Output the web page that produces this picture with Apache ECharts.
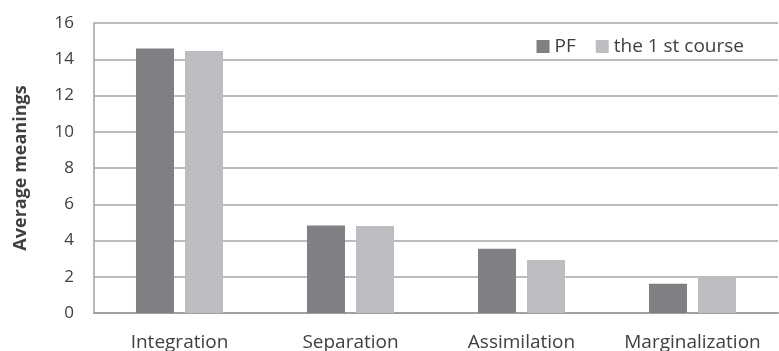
<!DOCTYPE html>
<html>
<head>
<meta charset="utf-8">
<script src="https://cdn.jsdelivr.net/npm/echarts@6/dist/echarts.min.js"></script>
<style>
  html, body { margin: 0; padding: 0; background: #fff; }
  #chart { width: 779px; height: 351px; }
</style>
</head>
<body>
<div id="chart"></div>
<script>
// categories and values
const categories = ['Integration', 'Separation', 'Assimilation', 'Marginalization']
const seriesNames = ['PF', 'the 1 st course']
const pfValues = [14.6, 4.83, 3.54, 1.62]
const courseValues = [14.45, 4.8, 2.92, 1.95]
const yTicks = [0, 2, 4, 6, 8, 10, 12, 14, 16]

const font = 'Open Sans'
const textColor = '#404040'

const chart = echarts.init(document.getElementById('chart'))
chart.setOption({
  animation: false,
  textStyle: { fontFamily: font },
  legend: {
    data: seriesNames,
    top: 32,
    right: 30,
    itemWidth: 13,
    itemHeight: 13,
    itemGap: 20,
    icon: 'rect',
    textStyle: { fontFamily: font, fontSize: 19, color: textColor }
  },
  grid: { left: 94, right: 1, top: 23, bottom: 38, outerBoundsMode: 'none' },
  xAxis: {
    type: 'category',
    data: categories,
    axisTick: { show: false },
    axisLine: { lineStyle: { color: '#a0a0a0', width: 2 } },
    axisLabel: { interval: 0, fontFamily: font, fontSize: 19, color: textColor, margin: 20 }
  },
  yAxis: {
    type: 'value',
    min: yTicks[0],
    max: yTicks[yTicks.length - 1],
    interval: 2,
    name: 'Average meanings',
    nameLocation: 'middle',
    nameGap: 64,
    nameTextStyle: { fontFamily: font, fontSize: 18, fontWeight: 'bold', color: textColor },
    axisLine: { show: true, lineStyle: { color: '#a0a0a0', width: 1.5 } },
    axisTick: { show: false },
    splitLine: { lineStyle: { color: '#a6a6a6', width: 1.5 } },
    axisLabel: { fontFamily: font, fontSize: 17, color: textColor, margin: 20 }
  },
  series: [
    {
      name: seriesNames[0],
      type: 'bar',
      data: pfValues,
      barWidth: 38,
      barGap: '29%',
      itemStyle: { color: '#7f8084' }
    },
    {
      name: seriesNames[1],
      type: 'bar',
      data: courseValues,
      barWidth: 38,
      itemStyle: { color: '#bcbdc0' }
    }
  ]
})
</script>
</body>
</html>
